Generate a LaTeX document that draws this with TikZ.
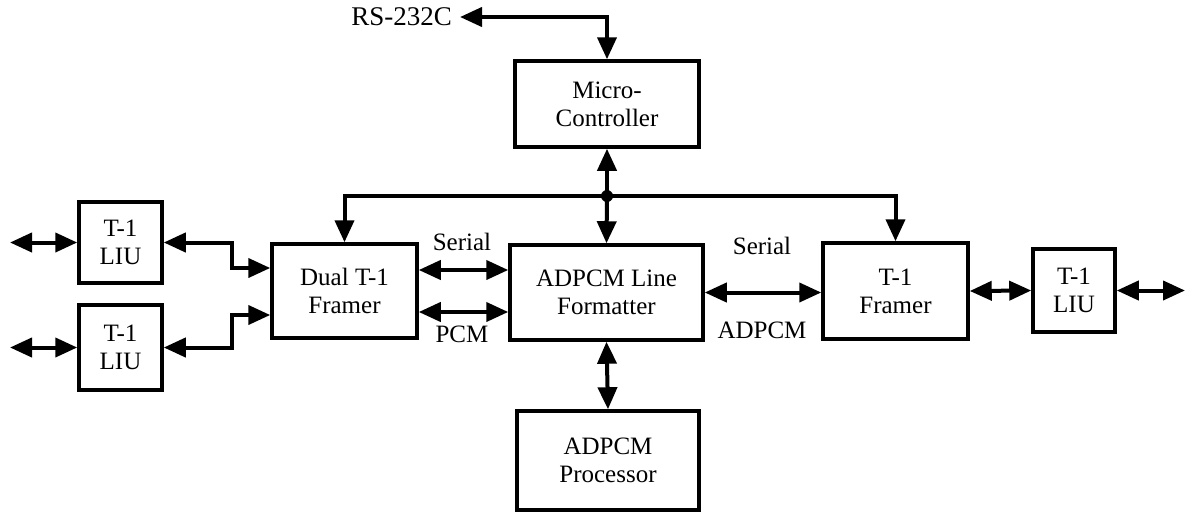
\documentclass[tikz,border=0pt]{standalone}
\usepackage{fontspec}
\setmainfont{Liberation Serif}
\usetikzlibrary{arrows.meta,calc}
\begin{document}
\begin{tikzpicture}[x=1pt,y=-1pt,
  blk/.style={draw,line width=3.5pt,align=center,inner sep=0pt,font=\fontsize{25}{28}\selectfont},
  lbl/.style={font=\fontsize{25}{28}\selectfont,inner sep=0pt},
  wire/.style={line width=4pt},
  tip/.style={wire,-{Triangle[length=22pt,width=19pt]}},
  dbl/.style={wire,{Triangle[length=22pt,width=19pt]}-{Triangle[length=22pt,width=19pt]}}]
\useasboundingbox (0,0) rectangle (1187,512);

% blocks
\node[blk,minimum width=184pt,minimum height=86pt] (micro) at (607,104) {Micro-\\Controller};
\node[blk,minimum width=145pt,minimum height=94pt] (dual) at (344.5,291) {Dual T-1\\Framer};
\node[blk,minimum width=193pt,minimum height=95pt] (fmt) at (606.5,292.5) {ADPCM Line\\Formatter};
\node[blk,minimum width=182pt,minimum height=99pt] (proc) at (608,460.5) {ADPCM\\Processor};
\node[blk,minimum width=145pt,minimum height=96pt] (tfr) at (895.5,291) {T-1\\Framer};
\node[blk,minimum width=83pt,minimum height=81pt] (liua) at (120.5,242.5) {T-1\\LIU};
\node[blk,minimum width=83pt,minimum height=85pt] (liub) at (120.5,347.5) {T-1\\LIU};
\node[blk,minimum width=82pt,minimum height=83pt] (liuc) at (1074,290.5) {T-1\\LIU};

% serial port
\node[lbl,anchor=east,font=\fontsize{27}{30}\selectfont] (rs) at (452,17) {RS-232C};
\draw[dbl] ([xshift=8pt]rs.east) -| (micro.north);

% control bus
\coordinate (bus) at (607,196);
\draw[tip] (bus) -| (dual.north);
\draw[tip] (bus) -| (tfr.north);
\draw[tip] (bus) -- (micro.south);
\draw[tip] (bus) -- (fmt.north);
\fill (bus) circle (6pt);

% line side
\coordinate (ina) at (10,242.5);
\coordinate (inb) at (10,347.5);
\coordinate (outc) at (1185,290.5);
\draw[dbl] (ina) -- (liua.west);
\draw[dbl] (inb) -- (liub.west);
\draw[dbl] (liua.east) -- ++(68,0) |- ($(dual.west)+(0,-23)$);
\draw[dbl] (liub.east) -- ++(68,0) |- ($(dual.west)+(0,24)$);
\draw[dbl] (tfr.east) -- (liuc.west);
\draw[dbl] (liuc.east) -- (outc);

% data paths
\coordinate (ser) at ($(dual.east)+(0,-21)$);
\coordinate (pcm) at ($(dual.east)+(0,21)$);
\draw[dbl] (ser) -- (ser -| fmt.west);
\draw[dbl] (pcm) -- (pcm -| fmt.west);
\draw[dbl] (fmt.east) -- (fmt.east -| tfr.west);
\draw[dbl] (fmt.south) -- (proc.north);

% labels
\node[lbl] (l1) at (462,242) {Serial};
\node[lbl] (l2) at (462,334) {PCM};
\node[lbl] (l3) at (762,246) {Serial};
\node[lbl] (l4) at (762,330) {ADPCM};
\end{tikzpicture}
\end{document}
